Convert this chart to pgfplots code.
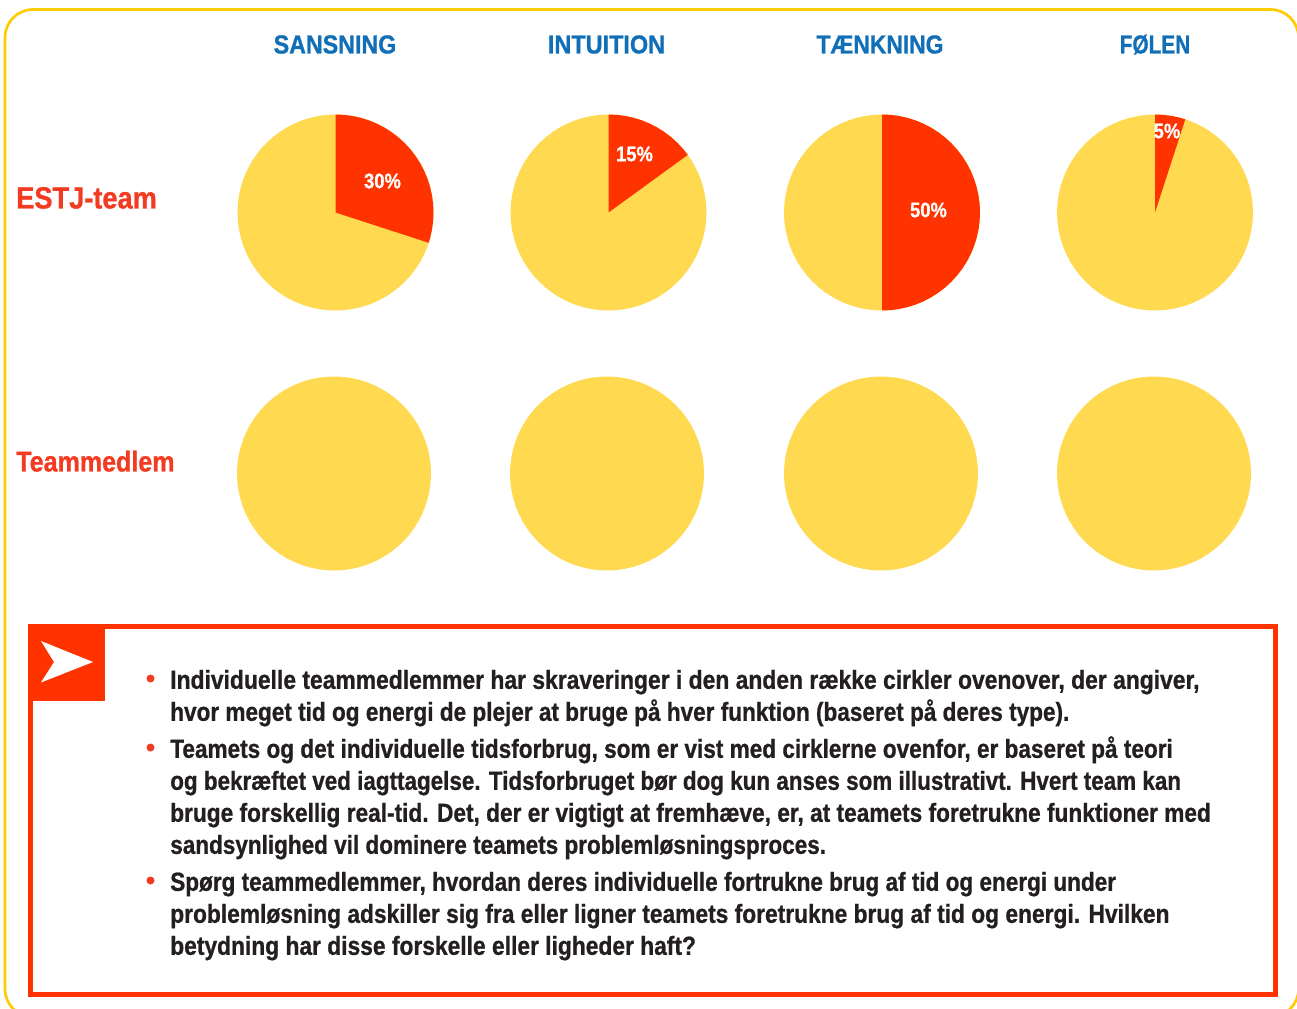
\documentclass[border=0pt]{standalone}
\usepackage{pgfplots}
\pgfplotsset{compat=1.18}
\usepackage{pgfplotstable}
\usepgfplotslibrary{polar}
\usepackage{graphicx}
\usepackage{fontspec}
\setmainfont{Liberation Sans}[FakeStretch=0.874,BoldFeatures={FakeBold=0.8}]
\definecolor{frameY}{HTML}{FFCC00}
\definecolor{pieY}{HTML}{FFD94F}
\definecolor{pieR}{HTML}{FF3300}
\definecolor{headB}{HTML}{116FB8}
\definecolor{rowR}{HTML}{F33B22}
\definecolor{bodyK}{HTML}{231F20}
% every table: angle (degrees), radius (share of the pie's radius)
\pgfplotstableread[row sep=\\]{a r\\0 1\\5 1\\10 1\\15 1\\20 1\\25 1\\30 1\\35 1\\40 1\\45 1\\50 1\\55 1\\60 1\\65 1\\70 1\\75 1\\80 1\\85 1\\90 1\\95 1\\100 1\\105 1\\110 1\\115 1\\120 1\\125 1\\130 1\\135 1\\140 1\\145 1\\150 1\\155 1\\160 1\\165 1\\170 1\\175 1\\180 1\\185 1\\190 1\\195 1\\200 1\\205 1\\210 1\\215 1\\220 1\\225 1\\230 1\\235 1\\240 1\\245 1\\250 1\\255 1\\260 1\\265 1\\270 1\\275 1\\280 1\\285 1\\290 1\\295 1\\300 1\\305 1\\310 1\\315 1\\320 1\\325 1\\330 1\\335 1\\340 1\\345 1\\350 1\\355 1\\}\disc
\pgfplotstableread[row sep=\\]{a r\\90 0\\90 1\\85 1\\80 1\\75 1\\70 1\\65 1\\60 1\\55 1\\50 1\\45 1\\40 1\\35 1\\30 1\\25 1\\20 1\\15 1\\10 1\\5 1\\0 1\\-5 1\\-10 1\\-15 1\\-18 1\\}\sliceA
\pgfplotstableread[row sep=\\]{a r\\90 0\\90 1\\85 1\\80 1\\75 1\\70 1\\65 1\\60 1\\55 1\\50 1\\45 1\\40 1\\36 1\\}\sliceB
\pgfplotstableread[row sep=\\]{a r\\90 0\\90 1\\85 1\\80 1\\75 1\\70 1\\65 1\\60 1\\55 1\\50 1\\45 1\\40 1\\35 1\\30 1\\25 1\\20 1\\15 1\\10 1\\5 1\\0 1\\-5 1\\-10 1\\-15 1\\-20 1\\-25 1\\-30 1\\-35 1\\-40 1\\-45 1\\-50 1\\-55 1\\-60 1\\-65 1\\-70 1\\-75 1\\-80 1\\-85 1\\-90 1\\}\sliceC
\pgfplotstableread[row sep=\\]{a r\\90 0\\90 1\\85 1\\80 1\\75 1\\72 1\\}\sliceD
\pgfplotsset{pie/.style={hide axis,scale only axis,anchor=center,clip=false,
  xmin=0,xmax=360,ymin=0,ymax=1,xtick=\empty,ytick=\empty}}
\newcommand{\PieS}[4]{% x, y, radius (px), slice table
  \begin{polaraxis}[pie,at={({#1*0.75pt},{-#2*0.75pt})},width=#3*1.5pt,height=#3*1.5pt]
    \addplot[fill=pieY,draw=none] table[x=a,y=r] {\disc} -- cycle;
    \addplot[fill=pieR,draw=none] table[x=a,y=r] {#4} -- cycle;
  \end{polaraxis}}
\newcommand{\Pie}[3]{% x, y, radius (px)
  \begin{polaraxis}[pie,at={({#1*0.75pt},{-#2*0.75pt})},width=#3*1.5pt,height=#3*1.5pt]
    \addplot[fill=pieY,draw=none] table[x=a,y=r] {\disc} -- cycle;
  \end{polaraxis}}
\newcommand{\Line}[3]{\node[anchor=base west,inner sep=0pt,text=bodyK,font=\fontsize{19.6pt}{19.6pt}\selectfont\bfseries] at (170,#1) {\scalebox{#2}[1]{#3}};}
\newcommand{\Bul}[1]{\fill[rowR] (150.5,#1) circle (4);}
\newcommand{\Head}[3]{\node[anchor=base,inner sep=0pt,text=headB,font=\fontsize{19.6pt}{19.6pt}\selectfont\bfseries] at (#1,53.5) {\scalebox{#2}[1]{#3}};}
\newcommand{\Pct}[3]{\node[anchor=center,inner sep=0pt,text=white,font=\fontsize{15.8pt}{15.8pt}\selectfont\bfseries] at (#1,#2) {#3};}
\begin{document}
\begin{tikzpicture}[x=0.75pt,y=-0.75pt]
\useasboundingbox (0,0) rectangle (1297,1009);
\clip (0,0) rectangle (1297,1009);
\fill[white] (0,0) rectangle (1297,1009);
\draw[frameY,line width=2pt,rounded corners=21pt] (5,9.5) rectangle (1298.5,1017);
\PieS{335.5}{212.5}{98}{\sliceA}
\PieS{608.5}{212.5}{98}{\sliceB}
\PieS{882}{212.5}{98}{\sliceC}
\PieS{1155}{212.5}{98}{\sliceD}
\Pie{334}{473.5}{97}
\Pie{607}{473.5}{97}
\Pie{881}{473.5}{97}
\Pie{1154}{473.5}{97}
\Head{335}{1.017}{SANSNING}
\Head{606.5}{1.026}{INTUITION}
\Head{880}{1}{TÆNKNING}
\Head{1155}{0.91}{FØLEN}
\Pct{382.5}{181}{30\%}
\Pct{634.5}{154}{15\%}
\Pct{928.5}{210}{50\%}
\Pct{1167}{131}{5\%}
\node[anchor=base west,inner sep=0pt,text=rowR,font=\fontsize{23pt}{23pt}\selectfont\bfseries] at (16,208.5) {\scalebox{1.015}[1]{ESTJ-team}};
\node[anchor=base west,inner sep=0pt,text=rowR,font=\fontsize{21.5pt}{21.5pt}\selectfont\bfseries] at (16,471.5) {Teammedlem};
% box
\draw[pieR,line width=4.1pt] (30.7,626.7) rectangle (1275.3,994.3);
\fill[pieR] (28,624) rectangle (105,701);
\fill[white] (93,662) -- (41,641) -- (54,662) -- (41,682.5) -- cycle;
\Bul{678.5}\Bul{747.5}\Bul{880.5}
\Line{688.8}{1.001}{Individuelle teammedlemmer har skraveringer i den anden række cirkler ovenover, der angiver,}
\Line{720.8}{0.988}{hvor meget tid og energi de plejer at bruge på hver funktion (baseret på deres type).}
\Line{757.8}{0.989}{Teamets og det individuelle tidsforbrug, som er vist med cirklerne ovenfor, er baseret på teori}
\Line{789.8}{0.982}{og bekræftet ved iagttagelse. Tidsforbruget bør dog kun anses som illustrativt. Hvert team kan}
\Line{821.8}{0.993}{bruge forskellig real-tid. Det, der er vigtigt at fremhæve, er, at teamets foretrukne funktioner med}
\Line{853.8}{0.986}{sandsynlighed vil dominere teamets problemløsningsproces.}
\Line{890.8}{0.987}{Spørg teammedlemmer, hvordan deres individuelle fortrukne brug af tid og energi under}
\Line{922.8}{0.997}{problemløsning adskiller sig fra eller ligner teamets foretrukne brug af tid og energi. Hvilken}
\Line{954.8}{0.998}{betydning har disse forskelle eller ligheder haft?}
\end{tikzpicture}
\end{document}
